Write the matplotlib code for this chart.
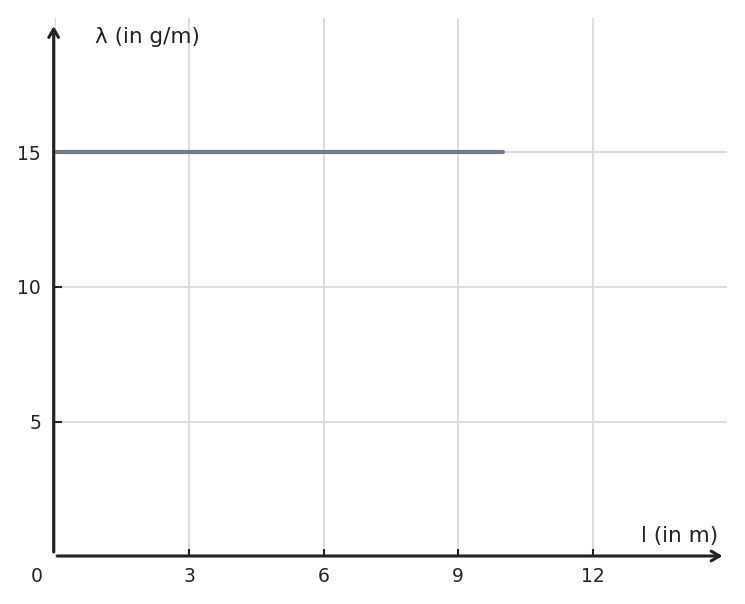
import matplotlib
matplotlib.use("Agg")
import matplotlib.pyplot as plt

# data
length_m = [0, 10]
density = [15, 15]
x_ticks = [3, 6, 9, 12]
y_ticks = [5, 10, 15]
x_label = "l (in m)"
y_label = "λ (in g/m)"

fig = plt.figure(figsize=(7.45, 6.04), dpi=100)
ax = fig.add_axes([55 / 745, 48 / 604, 672 / 745, 538 / 604])
ax.set_xlim(0, 15)
ax.set_ylim(0, 20)

for s in ax.spines.values():
    s.set_visible(False)

# grid
for xv in [0] + x_ticks:
    ax.axvline(xv, color="#d9d9d9", lw=1.3, zorder=0)
for yv in y_ticks:
    ax.axhline(yv, color="#d9d9d9", lw=1.3, zorder=0)

ax.plot(length_m, density, color="#6e7a80", lw=3, solid_capstyle="round", zorder=3)

ax.set_xticks(x_ticks)
ax.set_yticks(y_ticks)
ax.tick_params(axis="x", direction="in", length=5, width=1.5, color="#222222",
               labelsize=13.5, pad=8, labelcolor="#222222")
ax.tick_params(axis="y", direction="in", length=5, width=1.5, color="#222222",
               labelsize=13.5, pad=10, labelcolor="#222222")

# axis arrows
arrow = dict(arrowstyle="->,head_length=0.6,head_width=0.35", color="#222222", lw=2.2,
             shrinkA=0, shrinkB=0)
ax.annotate("", xy=(-0.03, 19.7), xytext=(-0.03, 0.15),
            xycoords="data", textcoords="data", arrowprops=arrow, annotation_clip=False)
ax.annotate("", xy=(14.9, 0), xytext=(0.05, 0),
            xycoords="data", textcoords="data", arrowprops=arrow, annotation_clip=False)

ax.text(0.9, 19.3, y_label, fontsize=15.5, color="#222222", va="center", ha="left")
ax.text(14.8, 0.75, x_label, fontsize=15.5, color="#222222", va="center", ha="right")
ax.text(-0.4, -0.75, "0", fontsize=13.5, color="#222222", va="center", ha="center")

fig.savefig("out.png", dpi=100)
